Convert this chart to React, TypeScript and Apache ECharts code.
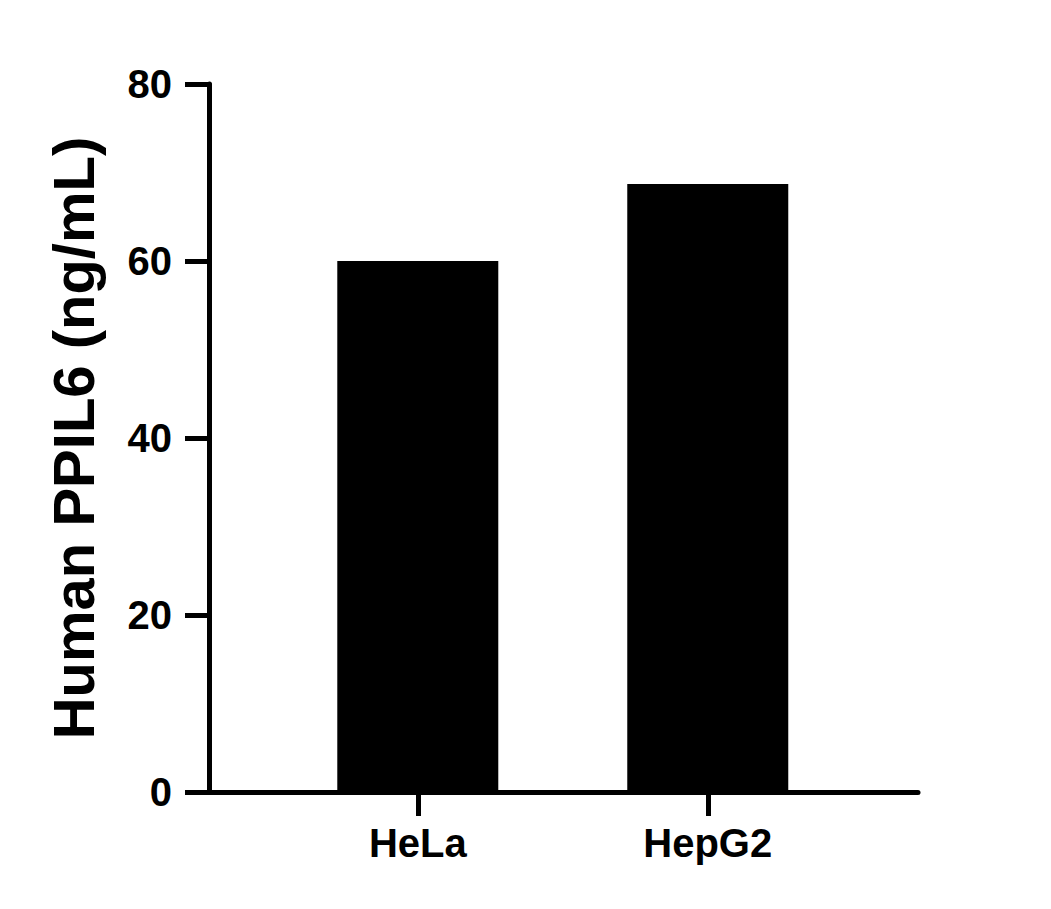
import React, { useEffect, useRef } from "react";
import * as echarts from "echarts";

const categories: string[] = ["HeLa", "HepG2"];
const values: number[] = [60, 68.7];
const yTicks: number[] = [0, 20, 40, 60, 80];
const yTitle = "Human PPIL6 (ng/mL)";

const FONT = "'Liberation Sans', Arial, Helvetica, sans-serif";

export default function App() {
  const ref = useRef<HTMLDivElement>(null);
  useEffect(() => {
    if (!ref.current) return;
    const chart = echarts.init(ref.current, null, { renderer: "svg" });
    const positions = categories.map((_, i) => i + 1);
    chart.setOption({
      animation: false,
      backgroundColor: "#ffffff",
      grid: { left: 209, right: 133, top: 84, bottom: 117, containLabel: false },
      xAxis: {
        type: "value",
        min: 0.28,
        max: 2.725,
        splitLine: { show: false },
        axisLine: { show: true, onZero: false, lineStyle: { color: "#000", width: 5 } },
        axisTick: { show: true, length: 24, lineStyle: { color: "#000", width: 5 }, customValues: positions },
        axisLabel: {
          show: true,
          customValues: positions,
          margin: 31,
          color: "#000",
          fontSize: 40,
          fontWeight: "bold",
          fontFamily: FONT,
          formatter: (v: number) => categories[Math.round(v) - 1] ?? "",
        },
      },
      yAxis: {
        type: "value",
        min: yTicks[0],
        max: yTicks[yTicks.length - 1],
        interval: 20,
        name: yTitle,
        nameLocation: "middle",
        nameGap: 107,
        nameTextStyle: { color: "#000", fontSize: 58, fontWeight: "bold", fontFamily: FONT },
        splitLine: { show: false },
        axisLine: { show: true, lineStyle: { color: "#000", width: 5 } },
        axisTick: { show: true, length: 24, lineStyle: { color: "#000", width: 5 } },
        axisLabel: { margin: 37, color: "#000", fontSize: 40, fontWeight: "bold", fontFamily: FONT },
      },
      series: [
        {
          type: "bar",
          data: values.map((v, i) => [positions[i], v]),
          barWidth: 161,
          itemStyle: { color: "#000" },
        },
      ],
    });
    return () => chart.dispose();
  }, []);
  return (
    <div
      ref={ref}
      style={{ position: "fixed", left: 0, top: 0, width: 1051, height: 909, background: "#fff" }}
    />
  );
}
